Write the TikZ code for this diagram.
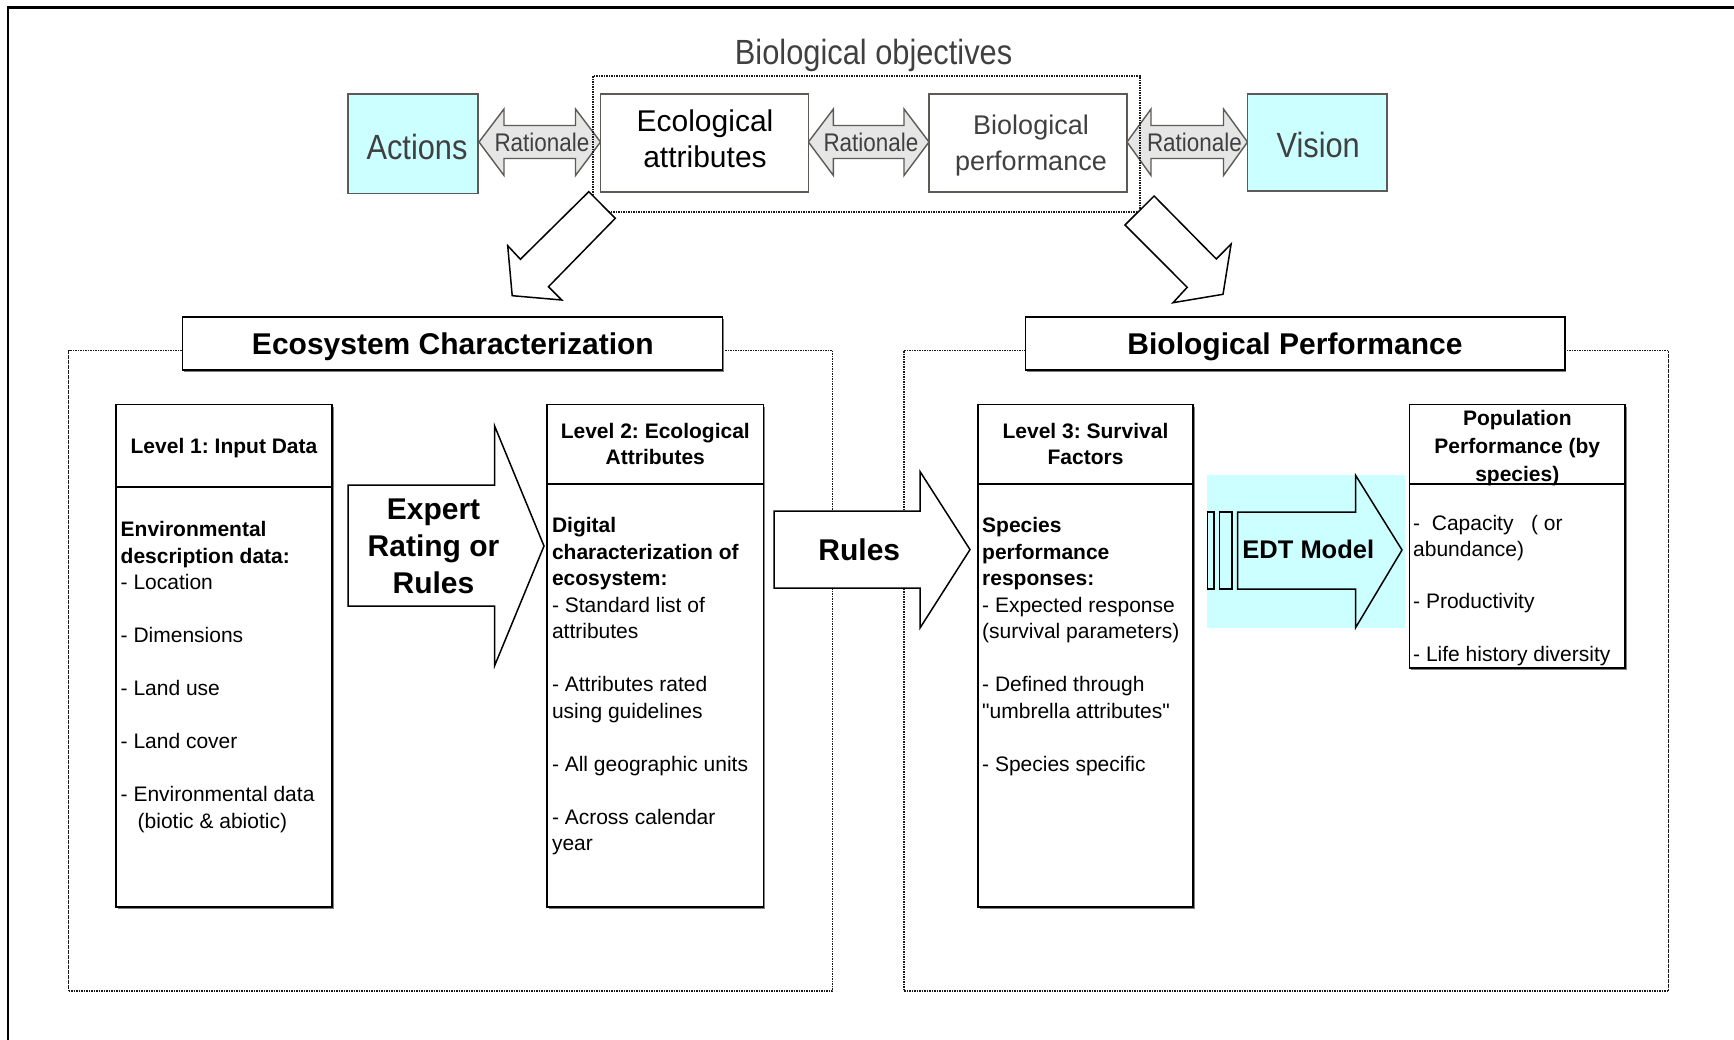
\documentclass[tikz,border=0pt]{standalone}
\usepackage{fontspec}
\setmainfont{Liberation Sans}[Ligatures=TeXOff]
\newfontfamily\narrowsans[FakeStretch=0.88]{Liberation Sans}
\usetikzlibrary{shadows}
\definecolor{cyanfill}{HTML}{CCFFFF}
\definecolor{topborder}{HTML}{5E5A55}
\definecolor{ratfill}{HTML}{E6E6E6}
\definecolor{graytxt}{HTML}{404040}
\newcommand{\myfs}[2]{\fontsize{#1}{#2}\selectfont}
\tikzset{
  topbox/.style={draw=topborder, line width=1.8pt, inner sep=0pt},
  ratarrow/.style={draw=topborder, fill=ratfill, line width=1.4pt, line join=miter},
  toptxt/.style={font=\narrowsans\myfs{35}{40}, text=graytxt, inner sep=0pt, anchor=base},
  ratlabel/.style={font=\narrowsans\myfs{25.5}{30}, text=graytxt, inner sep=0pt, anchor=base},
  dotframe/.style={draw=black!90, line width=1.7pt, dash pattern=on 1.7pt off 0.8pt, inner sep=0pt},
  downarrow/.style={draw=black, fill=white, line width=1.5pt, line join=miter},
  boxshadow/.style={drop shadow={shadow xshift=1.5pt, shadow yshift=-2pt, opacity=1, fill=black!50}},
  levelbox/.style={draw=black, fill=white, line width=1.6pt, inner sep=0pt, boxshadow},
  divider/.style={draw=black, line width=1.6pt},
  hdr/.style={font=\myfs{21}{26}\bfseries, align=center, inner sep=0pt, anchor=north},
  body/.style={font=\myfs{21}{26.5}, align=left, anchor=north west, inner sep=0pt},
  titlebox/.style={draw=black, fill=white, line width=1.8pt, inner sep=0pt, boxshadow},
  titletxt/.style={font=\myfs{30}{36}\bfseries, inner sep=0pt, anchor=base},
  blockarrow/.style={draw=black, fill=white, line width=1.5pt, line join=miter},
  arrowtxt/.style={font=\myfs{30}{37}\bfseries, align=center, inner sep=0pt},
}
\begin{document}
\frenchspacing
\begin{tikzpicture}[x=1pt,y=-1pt]
\useasboundingbox (0,0) rectangle (1734,1040);
\draw[line width=2.5pt] (1734,7.5) -- (8,7.5) -- (8,1040);

% ---------- top row ----------
\node[toptxt] (bioobjtxt) at (873.6,65) {Biological objectives};

\draw[ratarrow] (479,142) -- (504,109) -- (504,125.5) -- (575.5,125.5) -- (575.5,109) -- (600.5,142)
   -- (575.5,175.5) -- (575.5,158.5) -- (504,158.5) -- (504,175.5) -- cycle;
\draw[ratarrow] (808.4,142) -- (833.4,109) -- (833.4,125.5) -- (904,125.5) -- (904,109) -- (929,142)
   -- (904,175.5) -- (904,158.5) -- (833.4,158.5) -- (833.4,175.5) -- cycle;
\draw[ratarrow] (1127,142) -- (1151,109) -- (1151,125.5) -- (1223.5,125.5) -- (1223.5,109) -- (1247.5,142)
   -- (1223.5,175.5) -- (1223.5,158.5) -- (1151,158.5) -- (1151,175.5) -- cycle;
\node[ratlabel] (rat1) at (541.9,151.8) {Rationale};
\node[ratlabel] (rat2) at (870.9,151.8) {Rationale};
\node[ratlabel] (rat3) at (1194.4,151.8) {Rationale};

\node[topbox, fill=cyanfill, minimum width=130pt, minimum height=99.5pt] (actions) at (413,143.7) {};
\node[topbox, fill=white, minimum width=208pt, minimum height=98pt] (ecoattr) at (704.5,143) {};
\node[topbox, fill=white, minimum width=198pt, minimum height=98pt] (bioperf) at (1028,143) {};
\node[topbox, fill=cyanfill, minimum width=139.5pt, minimum height=97pt] (vision) at (1317.3,142.5) {};

\node[toptxt] (actionstxt) at (417,159.5) {Actions};
\node[toptxt] (visiontxt) at (1318.2,157.5) {Vision};
\node[font=\myfs{30}{36.5}, align=center, inner sep=0pt, anchor=north] (ecoattrtxt) at (705,101.3)
  {\rule{0pt}{30pt}Ecological\\attributes};
\node[font=\myfs{27}{35.4}, text=graytxt, align=center, inner sep=0pt, anchor=north] (bioperftxt) at (1031,107.6)
  {\rule{0pt}{27pt}Biological\\performance};

\node[dotframe, minimum width=547pt, minimum height=135.7pt] (bioobjframe) at (866.5,143.85) {};

% down arrows
\draw[downarrow] (588.8,191.7) -- (615.3,218.3) -- (548.5,286.7) -- (561.7,300) -- (512.2,295.7)
   -- (507.7,245.7) -- (520.4,259.3) -- cycle;
\draw[downarrow] (1154.1,196) -- (1125,225) -- (1187.2,287.3) -- (1173,302.7) -- (1223,294.3)
   -- (1231.1,244) -- (1216.3,259) -- cycle;

% ---------- frames ----------
\node[dotframe, minimum width=763.9pt, minimum height=640.4pt] (ecframe) at (450.55,670.8) {};
\node[dotframe, minimum width=764.5pt, minimum height=640.4pt] (bpframe) at (1286.25,670.8) {};

\node[titlebox, minimum width=540pt, minimum height=52.7pt] (ectitle) at (452.5,343.65) {};
\node[titlebox, minimum width=539.3pt, minimum height=52.7pt] (bptitle) at (1295.05,343.65) {};
\node[titletxt] (ectitletxt) at (452.9,355) {Ecosystem Characterization};
\node[titletxt] (bptitletxt) at (1295,355) {Biological Performance};

% ---------- level boxes ----------
\node[levelbox, minimum width=216pt, minimum height=502.5pt] (l1box) at (224,655.75) {};
\node[levelbox, minimum width=216.5pt, minimum height=502.5pt] (l2box) at (655.25,655.75) {};
\node[levelbox, minimum width=215pt, minimum height=502.5pt] (l3box) at (1085.5,655.75) {};
\node[levelbox, minimum width=215.5pt, minimum height=263.5pt] (popbox) at (1517.25,536.25) {};

\coordinate (d1) at (0,487);
\coordinate (d2) at (0,483.7);
\draw[divider] (l1box.west |- d1) -- (l1box.east |- d1);
\draw[divider] (l2box.west |- d2) -- (l2box.east |- d2);
\draw[divider] (l3box.west |- d2) -- (l3box.east |- d2);
\draw[divider] (popbox.west |- d2) -- (popbox.east |- d2);

\node[hdr] (l1head) at (224,431) {\rule{0pt}{22pt}Level 1: Input Data};
\node[hdr] (l2head) at (655.3,416.5) {\rule{0pt}{22pt}Level 2: Ecological\\Attributes};
\node[hdr] (l3head) at (1085.5,416.5) {\rule{0pt}{22pt}Level 3: Survival\\Factors};
\node[hdr, font=\myfs{21}{27.7}\bfseries] (pophead) at (1517.3,403.5) {\rule{0pt}{22pt}Population\\Performance (by\\species)};

\node[body] (l1body) at (120.5,514.5) {\rule{0pt}{22pt}\textbf{Environmental}\\\textbf{description data:}\\- Location\\[26.5pt]- Dimensions\\[26.5pt]- Land use\\[26.5pt]- Land cover\\[26.5pt]- Environmental data\\\hspace*{17pt}(biotic \& abiotic)};
\node[body] (l2body) at (551.8,510.3) {\rule{0pt}{22pt}\textbf{Digital}\\\textbf{characterization of}\\\textbf{ecosystem:}\\- Standard list of\\attributes\\[26.5pt]- Attributes rated\\using guidelines\\[26.5pt]- All geographic units\\[26.5pt]- Across calendar\\year};
\node[body] (l3body) at (982,510.3) {\rule{0pt}{22pt}\textbf{Species}\\\textbf{performance}\\\textbf{responses:}\\- Expected response\\(survival parameters)\\[26.5pt]- Defined through\\"umbrella attributes"\\[26.5pt]- Species specific};
\node[body, font=\myfs{21}{25.5}] (popbody) at (1413,508.3) {\rule{0pt}{22pt}-\ \ Capacity\ \ \ ( or\\abundance)\\[27pt]- Productivity\\[27pt]- Life history diversity};

% ---------- block arrows ----------
\draw[blockarrow] (348,485) -- (494.5,485) -- (494.5,425.7) -- (544,546) -- (494.5,666) -- (494.5,606) -- (348,606) -- cycle;
\node[arrowtxt, anchor=north] (experttxt) at (433.5,489.4) {\rule{0pt}{30pt}Expert\\Rating or\\Rules};

\draw[blockarrow] (774,511) -- (920,511) -- (920,471.5) -- (970,549.6) -- (920,628) -- (920,588) -- (774,588) -- cycle;
\node[arrowtxt, anchor=base] (rulestxt) at (859.3,560) {Rules};

\node[fill=cyanfill, minimum width=198.3pt, minimum height=153pt, inner sep=0pt] (edtbg) at (1305.85,551.5) {};
\draw[draw=black, line width=1.4pt] (1207.5,512) rectangle (1214,589);
\draw[draw=black, line width=1.4pt] (1219.5,512) rectangle (1232,589);
\draw[draw=black, line width=1.5pt, line join=miter] (1237.7,512) -- (1355.7,512) -- (1355.7,475.5) -- (1402,550)
   -- (1355.7,627.5) -- (1355.7,589) -- (1237.7,589) -- cycle;
\node[font=\myfs{25.5}{30}\bfseries, inner sep=0pt, anchor=base] (edttxt) at (1308.3,558.8) {EDT Model};
\end{tikzpicture}
\end{document}
